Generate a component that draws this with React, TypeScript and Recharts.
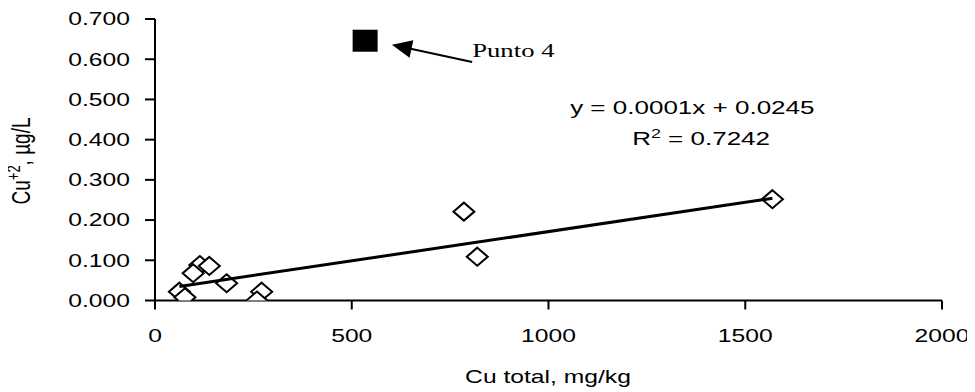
import React from 'react';
import { ScatterChart, Scatter, XAxis, YAxis, ReferenceLine, ReferenceDot, Customized } from 'recharts';

const xTicks = [0, 500, 1000, 1500, 2000];
const yTicks = [0, 0.1, 0.2, 0.3, 0.4, 0.5, 0.6, 0.7];

const samples = [
  { x: 114, y: 0.088 },
  { x: 138, y: 0.086 },
  { x: 97, y: 0.068 },
  { x: 182, y: 0.043 },
  { x: 62, y: 0.022 },
  { x: 76, y: 0.008 },
  { x: 271, y: 0.022 },
  { x: 259, y: 0.0 },
  { x: 785, y: 0.221 },
  { x: 819, y: 0.109 },
  { x: 1569, y: 0.252 },
];

const punto4 = [{ x: 534, y: 0.646 }];

const trend = [
  { x: 62, y: 0.035 },
  { x: 1569, y: 0.254 },
];

const arrowFrom = { x: 806, y: 0.593 };
const arrowTo = { x: 602, y: 0.636 };
const eqAnchor = { x: 1055, y: 0.464 };

const SX = 1.37;
const FONT = '"Liberation Sans", Arial, sans-serif';

const Diamond = (p: any) => {
  const { cx, cy } = p;
  if (cx == null || cy == null) return <g />;
  return (
    <polygon
      points={`${cx},${cy - 9} ${cx + 10.5},${cy} ${cx},${cy + 9} ${cx - 10.5},${cy}`}
      fill="#fff"
      stroke="#000"
      strokeWidth={2}
    />
  );
};

const Square = (p: any) => {
  const { cx, cy } = p;
  if (cx == null || cy == null) return <g />;
  return <rect x={cx - 12.5} y={cy - 11} width={25} height={22} fill="#000" />;
};

const Empty = () => <g />;

const YTick = (p: any) => {
  const { x, y, payload } = p;
  return (
    <g transform={`translate(${x},${y}) scale(${SX},1)`}>
      <text x={0} y={0} dy="0.355em" textAnchor="end" fontFamily={FONT} fontSize={18} fill="#000">
        {Number(payload.value).toFixed(3)}
      </text>
    </g>
  );
};

const XTick = (p: any) => {
  const { x, y, payload } = p;
  return (
    <g transform={`translate(${x},${y}) scale(${SX},1)`}>
      <text x={0} y={0} dy="0.71em" textAnchor="middle" fontFamily={FONT} fontSize={18} fill="#000">
        {payload.value}
      </text>
    </g>
  );
};

const ArrowShape = (p: any) => {
  const { x1, y1, x2, y2 } = p;
  if ([x1, y1, x2, y2].some((v) => v == null || isNaN(v))) return <g />;
  const dx = x2 - x1;
  const dy = y2 - y1;
  const len = Math.sqrt(dx * dx + dy * dy);
  const ux = dx / len;
  const uy = dy / len;
  const hl = 20;
  const hw = 9;
  const bx = x2 - ux * hl;
  const by = y2 - uy * hl;
  const pts = `${x2},${y2} ${bx - uy * hw},${by + ux * hw} ${bx + uy * hw},${by - ux * hw}`;
  return (
    <g>
      <line x1={x1} y1={y1} x2={bx + ux * 2} y2={by + uy * 2} stroke="#000" strokeWidth={2} />
      <polygon points={pts} fill="#000" />
      <g transform={`translate(${x1},${y1 - 5}) scale(${SX},1)`}>
        <text x={0} y={0} fontFamily={'"Liberation Serif", "Times New Roman", serif'} fontSize={19.5} fill="#000">
          Punto 4
        </text>
      </g>
    </g>
  );
};

const Equation = (p: any) => {
  const { cx, cy } = p;
  if (cx == null || cy == null) return <g />;
  return (
    <g>
      <g transform={`translate(${cx},${cy}) scale(${SX},1)`}>
        <text x={0} y={0} fontFamily={FONT} fontSize={19} fill="#000">
          y = 0.0001x + 0.0245
        </text>
      </g>
      <g transform={`translate(${cx + 62},${cy + 31}) scale(${SX},1)`}>
        <text x={0} y={0} fontFamily={FONT} fontSize={19} fill="#000">
          R
          <tspan fontSize={13} dy={-7}>2</tspan>
          <tspan dy={7}> = 0.7242</tspan>
        </text>
      </g>
    </g>
  );
};

const AxisTitles = () => (
  <g>
    <g transform={`translate(548,383) scale(${SX},1)`}>
      <text x={0} y={0} textAnchor="middle" fontFamily={FONT} fontSize={18} fill="#000">
        Cu total, mg/kg
      </text>
    </g>
    <g transform={`translate(30,161) scale(${SX},1) rotate(-90)`}>
      <text x={0} y={0} textAnchor="middle" fontFamily={FONT} fontSize={19} fill="#000">
        Cu
        <tspan fontSize={13} dy={-7}>+2</tspan>
        <tspan dy={7}>, µg/L</tspan>
      </text>
    </g>
  </g>
);

export default function App() {
  return (
    <div style={{ marginLeft: -8, marginTop: -8, width: 975, height: 392, background: '#fff' }}>
      <ScatterChart width={975} height={392} margin={{ top: 19, right: 33, bottom: 0, left: 0 }}>
        <XAxis
          type="number"
          dataKey="x"
          domain={[0, 2000]}
          ticks={xTicks}
          interval={0}
          tickSize={9}
          tickMargin={20}
          height={91.5}
          axisLine={{ stroke: '#000', strokeWidth: 2 }}
          tickLine={{ stroke: '#000', strokeWidth: 2 }}
          tick={XTick}
          allowDataOverflow
        />
        <YAxis
          type="number"
          dataKey="y"
          domain={[0, 0.7]}
          ticks={yTicks}
          interval={0}
          tickSize={10}
          tickMargin={15}
          width={155}
          axisLine={{ stroke: '#000', strokeWidth: 2 }}
          tickLine={{ stroke: '#000', strokeWidth: 2 }}
          tick={YTick}
          allowDataOverflow
        />
        <Scatter data={samples} shape={Diamond} isAnimationActive={false} />
        <Scatter data={punto4} shape={Square} isAnimationActive={false} />
        <Scatter
          data={trend}
          shape={Empty}
          line={{ stroke: '#000', strokeWidth: 3 }}
          isAnimationActive={false}
        />
        <ReferenceLine segment={[arrowFrom, arrowTo]} ifOverflow="visible" shape={ArrowShape} />
        <ReferenceDot x={eqAnchor.x} y={eqAnchor.y} ifOverflow="visible" shape={Equation} />
        <Customized component={AxisTitles} />
      </ScatterChart>
    </div>
  );
}
